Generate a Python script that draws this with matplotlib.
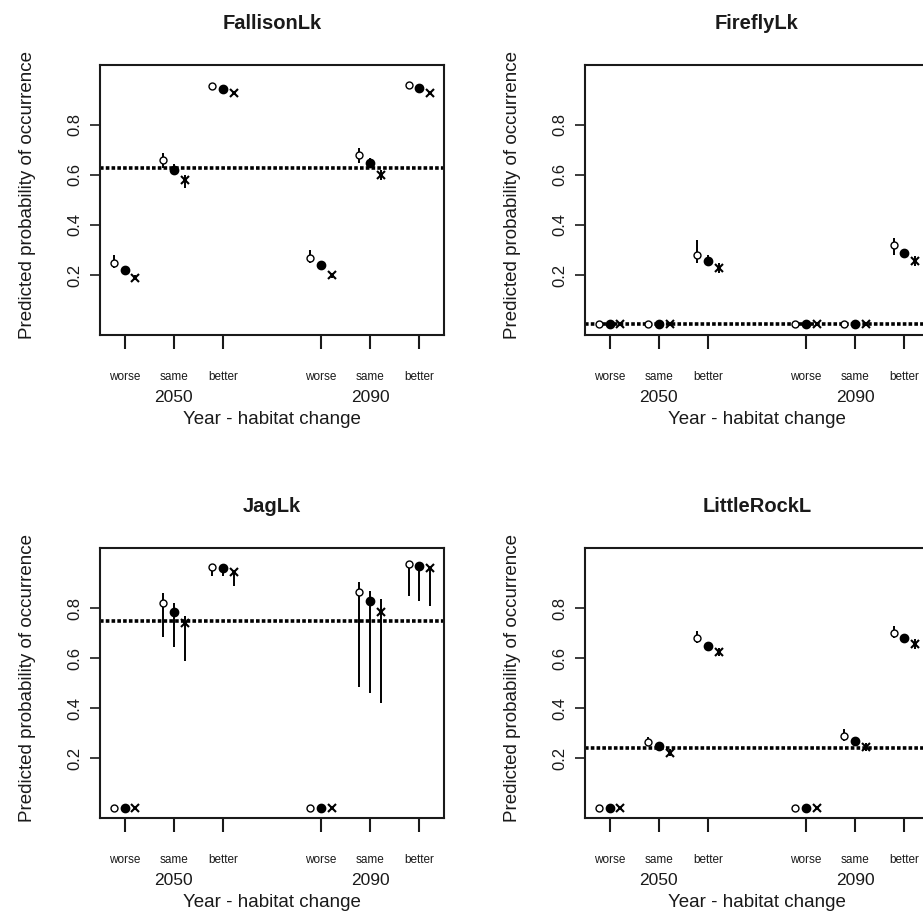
import numpy as np
import matplotlib
matplotlib.use("Agg")
import matplotlib.pyplot as plt
from matplotlib.transforms import blended_transform_factory

plt.rcParams['font.family'] = ['Liberation Sans', 'DejaVu Sans']

# tick positions on x: two blocks of three habitat scenarios
xpos = [1, 2, 3, 5, 6, 7]
habitat = ['worse', 'same', 'better', 'worse', 'same', 'better']
years = ['2050', '2090']
year_pos = [2, 6]

lakes = ['FallisonLk', 'FireflyLk', 'JagLk', 'LittleRockL']

# rows: open circle / filled circle / cross
fallison_mid = [[0.25, 0.66, 0.955, 0.27, 0.68, 0.96],
                [0.22, 0.62, 0.945, 0.24, 0.65, 0.95],
                [0.19, 0.58, 0.93, 0.20, 0.60, 0.93]]
fallison_lo = [[0.23, 0.63, 0.945, 0.25, 0.65, 0.95],
               [0.21, 0.60, 0.94, 0.23, 0.63, 0.945],
               [0.18, 0.55, 0.925, 0.19, 0.58, 0.925]]
fallison_hi = [[0.28, 0.69, 0.96, 0.30, 0.71, 0.965],
               [0.235, 0.645, 0.95, 0.255, 0.67, 0.955],
               [0.20, 0.60, 0.935, 0.21, 0.62, 0.935]]
fallison_base = 0.63

firefly_mid = [[0.005, 0.005, 0.28, 0.005, 0.005, 0.32],
               [0.004, 0.004, 0.255, 0.004, 0.004, 0.29],
               [0.004, 0.004, 0.23, 0.004, 0.004, 0.255]]
firefly_lo = [[0.0, 0.0, 0.25, 0.0, 0.0, 0.28],
              [0.0, 0.0, 0.235, 0.0, 0.0, 0.27],
              [0.0, 0.0, 0.21, 0.0, 0.0, 0.235]]
firefly_hi = [[0.01, 0.01, 0.34, 0.01, 0.01, 0.35],
              [0.01, 0.01, 0.28, 0.01, 0.01, 0.30],
              [0.01, 0.01, 0.25, 0.01, 0.01, 0.275]]
firefly_base = 0.005

jag_mid = [[0.0, 0.82, 0.965, 0.0, 0.865, 0.975],
           [0.0, 0.785, 0.96, 0.0, 0.83, 0.97],
           [0.0, 0.74, 0.945, 0.0, 0.785, 0.96]]
jag_lo = [[0.0, 0.685, 0.93, 0.0, 0.485, 0.85],
          [0.0, 0.645, 0.93, 0.0, 0.46, 0.83],
          [0.0, 0.59, 0.89, 0.0, 0.42, 0.81]]
jag_hi = [[0.0, 0.86, 0.97, 0.0, 0.905, 0.98],
          [0.0, 0.82, 0.965, 0.0, 0.87, 0.975],
          [0.0, 0.77, 0.95, 0.0, 0.835, 0.965]]
jag_base = 0.75

littlerock_mid = [[0.0, 0.265, 0.68, 0.0, 0.29, 0.70],
                  [0.0, 0.25, 0.65, 0.0, 0.27, 0.68],
                  [0.0, 0.22, 0.625, 0.0, 0.245, 0.655]]
littlerock_lo = [[0.0, 0.25, 0.66, 0.0, 0.27, 0.68],
                 [0.0, 0.24, 0.64, 0.0, 0.26, 0.665],
                 [0.0, 0.21, 0.61, 0.0, 0.23, 0.635]]
littlerock_hi = [[0.0, 0.285, 0.71, 0.0, 0.315, 0.73],
                 [0.0, 0.26, 0.665, 0.0, 0.285, 0.695],
                 [0.0, 0.235, 0.64, 0.0, 0.26, 0.675]]
littlerock_base = 0.24

mids = [fallison_mid, firefly_mid, jag_mid, littlerock_mid]
los = [fallison_lo, firefly_lo, jag_lo, littlerock_lo]
his = [fallison_hi, firefly_hi, jag_hi, littlerock_hi]
bases = [fallison_base, firefly_base, jag_base, littlerock_base]

offsets = [-0.22, 0.0, 0.22]
marker_style = [dict(marker='o', mfc='white', mec='black', ms=5, mew=1.0),
                dict(marker='o', mfc='black', mec='black', ms=6),
                dict(marker='x', mec='black', ms=6, mew=1.5)]

W, H = 923, 914
fig = plt.figure(figsize=(W / 100, H / 100), dpi=100)

# axes boxes in pixels (left, top); right column runs past the page edge
box_w, box_h = 344, 270
corners = [(100, 65), (585, 65), (100, 548), (585, 548)]
ink = '#1a1a1a'

for i, lake in enumerate(lakes):
    lx, ty = corners[i]
    ax = fig.add_axes([lx / W, (H - ty - box_h) / H, box_w / W, box_h / H])
    ax.set_xlim(0.5, 7.5)
    ax.set_ylim(-0.04, 1.04)

    ax.axhline(bases[i], color='black', lw=2.6, ls=(0, (1.0, 0.6)), zorder=2)

    for k in range(3):
        xs = np.array(xpos) + offsets[k]
        ax.vlines(xs, los[i][k], his[i][k], color='black', lw=1.4, zorder=3)
        ax.plot(xs, mids[i][k], ls='none', zorder=4, **marker_style[k])

    for s in ax.spines.values():
        s.set_linewidth(1.5)
        s.set_color(ink)

    ax.set_xticks(xpos)
    ax.set_xticklabels(habitat, fontsize=8.5, color=ink)
    ax.tick_params(axis='x', length=10, width=1.5, pad=16, color=ink)
    ax.set_yticks([0.2, 0.4, 0.6, 0.8])
    ax.set_yticklabels(['0.2', '0.4', '0.6', '0.8'], fontsize=12, color=ink,
                       rotation=90, va='center')
    ax.tick_params(axis='y', length=7, width=1.2, pad=6, color=ink)

    tr = blended_transform_factory(ax.transData, ax.transAxes)
    for yr, xp in zip(years, year_pos):
        ax.text(xp, -0.23, yr, transform=tr, ha='center', va='center',
                fontsize=12.5, color=ink)

    ax.set_xlabel('Year - habitat change', fontsize=13.5, color=ink)
    ax.xaxis.set_label_coords(0.5, -0.283)
    ax.set_ylabel('Predicted probability of occurrence', fontsize=13.5, color=ink)
    ax.yaxis.set_label_coords(-0.185, 0.52)
    ax.text(0.5, 1.155, lake, transform=ax.transAxes, ha='center', va='center',
            fontsize=14.5, fontweight='bold', color=ink)

fig.savefig('out.png', dpi=100)
